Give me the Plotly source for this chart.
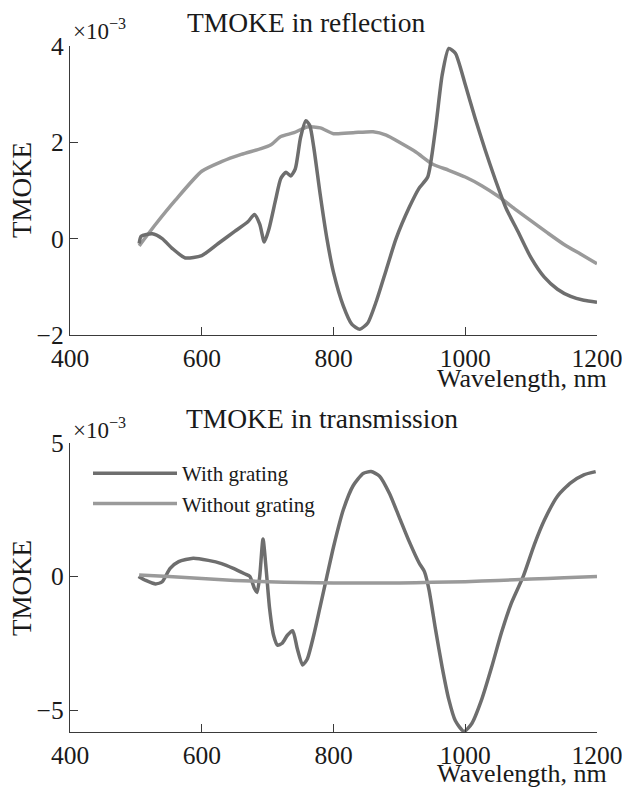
import plotly.graph_objects as go

# ---------------- data (values in units of 1e-3) ----------------
refl_with_wl = [505, 508, 525, 540, 555, 575, 600, 625, 650, 670, 680, 688, 695, 702, 712, 720, 728, 735, 742,
                750, 758, 764, 770, 780, 790, 800, 815, 828, 840, 852, 865, 880, 895, 915, 930, 943, 955, 965,
                975, 985, 1000, 1015, 1030, 1045, 1062, 1080, 1100, 1120, 1140, 1160, 1180, 1200]
refl_with_val = [-0.1, 0.05, 0.1, 0.0, -0.2, -0.4, -0.35, -0.1, 0.15, 0.35, 0.5, 0.3, -0.07, 0.2, 0.8, 1.25,
                 1.38, 1.3, 1.45, 2.1, 2.45, 2.35, 1.9, 0.9, 0.0, -0.7, -1.4, -1.78, -1.88, -1.75, -1.3, -0.65,
                 0.0, 0.65, 1.05, 1.28, 2.3, 3.4, 3.95, 3.85, 3.2, 2.5, 1.85, 1.25, 0.63, 0.15, -0.4, -0.8,
                 -1.05, -1.2, -1.28, -1.32]

refl_without_wl = [505, 530, 560, 600, 630, 660, 690, 705, 720, 740, 760, 780, 800, 830, 860, 880, 900, 925,
                   950, 975, 1000, 1025, 1050, 1075, 1100, 1125, 1150, 1175, 1200]
refl_without_val = [-0.15, 0.3, 0.8, 1.4, 1.6, 1.75, 1.87, 1.95, 2.12, 2.2, 2.32, 2.3, 2.18, 2.2, 2.22, 2.15,
                    2.0, 1.8, 1.55, 1.42, 1.28, 1.1, 0.88, 0.62, 0.37, 0.12, -0.12, -0.32, -0.52]

trans_with_wl = [504, 515, 530, 540, 552, 565, 587, 610, 630, 648, 665, 673, 680, 684, 688, 693, 698, 703,
                 709, 715, 722, 730, 738, 745, 753, 760, 770, 780, 790, 800, 815, 830, 845, 857, 870, 885,
                 900, 915, 930, 938, 945, 955, 965, 975, 985, 998, 1010, 1025, 1040, 1055, 1070, 1088, 1105,
                 1120, 1140, 1160, 1180, 1198]
trans_with_val = [0.0, -0.15, -0.28, -0.2, 0.3, 0.55, 0.68, 0.6, 0.48, 0.3, 0.1, 0.0, -0.45, -0.6, 0.0, 1.4,
                  0.2, -1.2, -2.2, -2.57, -2.5, -2.2, -2.03, -2.7, -3.31, -3.1, -2.2, -1.1, 0.0, 1.1, 2.5,
                  3.4, 3.85, 3.92, 3.75, 3.1, 2.2, 1.3, 0.5, 0.18, -0.5, -2.0, -3.4, -4.6, -5.4, -5.8, -5.5,
                  -4.6, -3.4, -2.1, -1.0, 0.0, 1.2, 2.1, 3.0, 3.5, 3.8, 3.92]

trans_without_wl = [505, 550, 600, 650, 700, 750, 800, 850, 900, 950, 1000, 1050, 1100, 1150, 1200]
trans_without_val = [0.05, 0.0, -0.08, -0.15, -0.2, -0.23, -0.25, -0.25, -0.25, -0.22, -0.2, -0.15, -0.1,
                     -0.05, 0.0]

x_ticks = [400, 600, 800, 1000, 1200]
refl_yticks = [-2, 0, 2, 4]
trans_yticks = [-5, 0, 5]

series_names = ["With grating", "Without grating"]

# ---------------- styling ----------------
W, H = 622, 789
FONT = "Liberation Serif, Times New Roman, serif"
DARK = "#6e6e6e"
LIGHT = "#9a9a9a"
AXC = "#3a3a3a"
LW = 3.5

def py(px):  # pixel row -> paper y
    return 1 - px / H

def pxx(px):
    return px / W

fig = go.Figure()

fig.add_trace(go.Scatter(x=refl_without_wl, y=refl_without_val, mode="lines", xaxis="x", yaxis="y",
                         line=dict(color=LIGHT, width=LW, shape="spline", smoothing=0.6), showlegend=False))
fig.add_trace(go.Scatter(x=refl_with_wl, y=refl_with_val, mode="lines", xaxis="x", yaxis="y",
                         line=dict(color=DARK, width=LW, shape="spline", smoothing=0.6), showlegend=False))
fig.add_trace(go.Scatter(x=trans_with_wl, y=trans_with_val, mode="lines", xaxis="x2", yaxis="y2",
                         name=series_names[0],
                         line=dict(color=DARK, width=LW, shape="spline", smoothing=0.6)))
fig.add_trace(go.Scatter(x=trans_without_wl, y=trans_without_val, mode="lines", xaxis="x2", yaxis="y2",
                         name=series_names[1],
                         line=dict(color=LIGHT, width=LW, shape="spline", smoothing=0.6)))

ax_common = dict(showline=True, linecolor=AXC, linewidth=1.3, ticks="inside", ticklen=8, tickwidth=1.3,
                 tickcolor=AXC, showgrid=False, zeroline=False, mirror=False, automargin=False,
                 ticklabeloverflow="allow",
                 tickfont=dict(family=FONT, size=25.5, color="#1a1a1a"))

xdom = [pxx(70), pxx(597)]
fig.update_layout(
    template="none",
    width=W, height=H, margin=dict(l=0, r=0, t=0, b=0, pad=0),
    paper_bgcolor="white", plot_bgcolor="white",
    xaxis=dict(domain=xdom, range=[400, 1200], tickvals=x_ticks, anchor="y", **ax_common),
    yaxis=dict(domain=[py(335), py(46)], range=[-2, 4], tickvals=refl_yticks,
               ticktext=["\u22122" if v < 0 else str(v) for v in refl_yticks], anchor="x", **ax_common),
    xaxis2=dict(domain=xdom, range=[400, 1200], tickvals=x_ticks, anchor="y2", **ax_common),
    yaxis2=dict(domain=[py(732.3), py(442.7)], range=[-5.83, 5], tickvals=trans_yticks,
                ticktext=["\u22125" if v < 0 else str(v) for v in trans_yticks], anchor="x2", **ax_common),
    legend=dict(x=pxx(88), y=py(453), xanchor="left", yanchor="top", bgcolor="rgba(0,0,0,0)",
                font=dict(family=FONT, size=21, color="#1a1a1a"), tracegroupgap=0, itemwidth=84),
    showlegend=True,
)

def ann(text, x, y, size, xanchor="center", yanchor="middle", angle=0):
    fig.add_annotation(text=text, x=x, y=y, xref="paper", yref="paper", showarrow=False,
                       xanchor=xanchor, yanchor=yanchor, textangle=angle,
                       font=dict(family=FONT, size=size, color="#1a1a1a"))

ann("TMOKE in reflection", pxx(306), py(22), 27.5)
ann("TMOKE in transmission", pxx(322), py(418), 27.5)
ann("\u00d710<sup>\u22123</sup>", pxx(71), py(30), 23, xanchor="left")
ann("\u00d710<sup>\u22123</sup>", pxx(71), py(428), 23, xanchor="left")
ann("Wavelength, nm", pxx(609), py(378), 26, xanchor="right")
ann("Wavelength, nm", pxx(609), py(773), 26, xanchor="right")
ann("TMOKE", pxx(22), py(190), 27, angle=-90)
ann("TMOKE", pxx(22), py(588), 27, angle=-90)

fig.write_html("out.html", config={"displayModeBar": False},
               post_script="document.body.style.margin='0';document.body.style.overflow='hidden';")
